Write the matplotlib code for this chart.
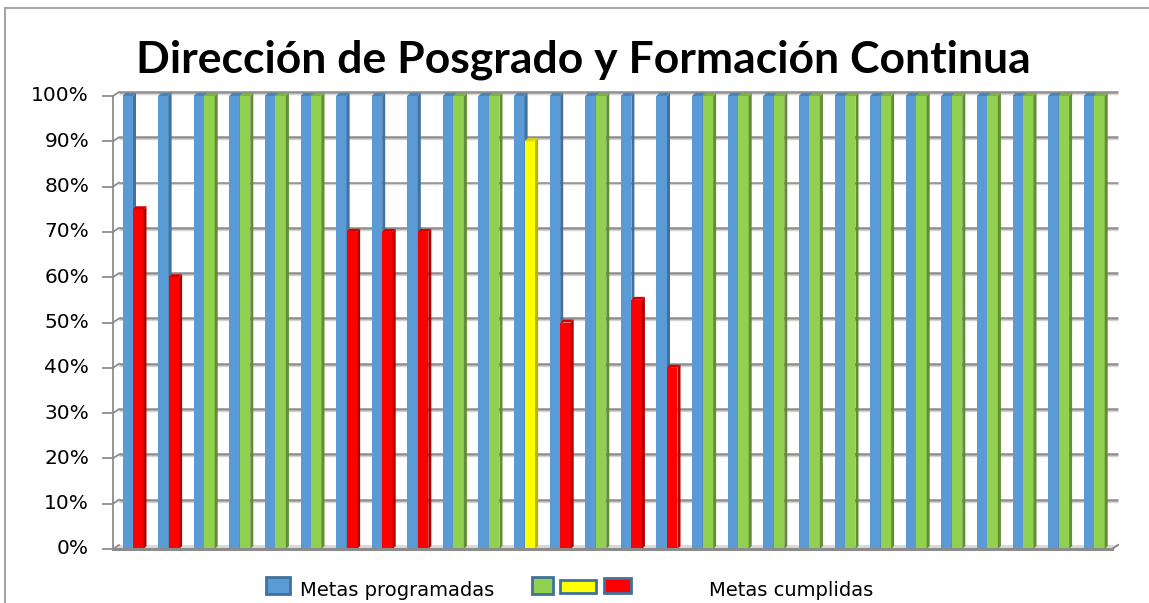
import matplotlib
matplotlib.use("Agg")
import matplotlib.pyplot as plt
from matplotlib.patches import Polygon, Rectangle
from matplotlib.lines import Line2D
import numpy as np

# ---------------- data ----------------
titulo = "Dirección de Posgrado y Formación Continua"
n_metas = 28
metas_programadas = [1.0] * 28
metas_cumplidas = [0.75, 0.60, 1.0, 1.0, 1.0, 1.0, 0.70, 0.70, 0.70, 1.0, 1.0,
                   0.90, 0.50, 1.0, 0.55, 0.40, 1.0, 1.0, 1.0, 1.0, 1.0, 1.0,
                   1.0, 1.0, 1.0, 1.0, 1.0, 1.0]
y_ticks = [0.0, 0.1, 0.2, 0.3, 0.4, 0.5, 0.6, 0.7, 0.8, 0.9, 1.0]
y_tick_labels = ["0%", "10%", "20%", "30%", "40%", "50%", "60%", "70%", "80%", "90%", "100%"]
legend_labels = ["Metas programadas", "Metas cumplidas"]

# ---------------- styles ----------------
BLUE = ("#5B9BD5", "#41719C", "#4A85BA")
GREEN = ("#92D050", "#628C35", "#7BB241")
YELLOW = ("#FFFF00", "#B5B500", "#D9D900")
RED = ("#FF0000", "#B00000", "#D40000")
GRID = "#8C8C8C"


def color_for(v):
    if v >= 1.0:
        return GREEN
    if v >= 0.9:
        return YELLOW
    return RED


W, H = 1149, 603
fig = plt.figure(figsize=(W / 100, H / 100), dpi=100)
fig.patch.set_facecolor("white")

# axes (front plane)
ax_l, ax_r, ax_b, ax_t = 113, 1112, 549, 96
ax = fig.add_axes([ax_l / W, 1 - ax_b / H, (ax_r - ax_l) / W, (ax_b - ax_t) / H])
x = np.arange(n_metas)
spacing_px = 35.6
first_px = 133
xl = -(first_px - ax_l) / spacing_px
xr = xl + (ax_r - ax_l) / spacing_px
ax.set_xlim(xl, xr)
ax.set_ylim(0, 1)
ax.axis("off")

px_x = 1 / spacing_px          # data units per pixel (x)
px_y = 1 / (ax_b - ax_t)       # data units per pixel (y)
dxb, dyb = 6 * px_x, 4 * px_y  # back wall offset
dxs, dys = 3 * px_x, 3 * px_y  # bar depth

# floor
floor = Polygon([(xl, 0), (xr, 0), (xr + dxb, dyb), (xl + dxb, dyb)], closed=True,
                facecolor="#D9D9D9", edgecolor="none", clip_on=False, zorder=1)
ax.add_patch(floor)

# gridlines on back wall + left wall diagonals + ticks
for v in y_ticks:
    if v > 0:
        ax.plot([xl + dxb, xr + dxb], [v + dyb, v + dyb], color=GRID, lw=1.8,
                clip_on=False, zorder=1, solid_capstyle="butt")
        ax.plot([xl + dxb, xr + dxb], [v + dyb - 1.8 * px_y, v + dyb - 1.8 * px_y],
                color="#D3D3D3", lw=1.0, clip_on=False, zorder=1, solid_capstyle="butt")
    ax.plot([xl, xl + dxb], [v, v + dyb], color=GRID, lw=1.3, clip_on=False, zorder=1)
    ax.plot([xl - 10 * px_x, xl], [v, v], color=GRID, lw=1.3, clip_on=False, zorder=1)
# left axis (front vertical)
ax.plot([xl, xl], [0, 1], color=GRID, lw=1.3, clip_on=False, zorder=1)
# floor front and right edges
ax.plot([xl, xr], [0, 0], color="#8C8C8C", lw=2.2, clip_on=False, zorder=5)
ax.plot([xr, xr + dxb], [0, dyb], color="#8C8C8C", lw=1.5, clip_on=False, zorder=5)

# bars
bw = 10.5 * px_x
offs = 5.25 * px_x


def bar3d(xc, v, cols, z):
    front, side, top = cols
    x0 = xc - bw / 2
    x1 = xc + bw / 2
    ax.bar(xc, v, width=bw, color=front, edgecolor="none", zorder=z)
    ax.add_patch(Polygon([(x1, 0), (x1 + dxs, dys), (x1 + dxs, v + dys), (x1, v)],
                         closed=True, facecolor=side, edgecolor="none", zorder=z, clip_on=False))
    ax.add_patch(Polygon([(x0, v), (x1, v), (x1 + dxs, v + dys), (x0 + dxs, v + dys)],
                         closed=True, facecolor=top, edgecolor="none", zorder=z, clip_on=False))


for i in range(n_metas):
    bar3d(x[i] - offs, metas_programadas[i], BLUE, 3)
    bar3d(x[i] + offs, metas_cumplidas[i], color_for(metas_cumplidas[i]), 4)

# y tick labels
for v, lab in zip(y_ticks, y_tick_labels):
    ax.text(xl - 24 * px_x, v, lab, ha="right", va="center", fontsize=14.5,
            family="DejaVu Sans", color="black", clip_on=False)

# title
fig.text(583 / W, 1 - 60 / H, titulo, ha="center", va="center", fontsize=32,
         fontweight="bold", family=["Lato", "DejaVu Sans"], color="black")

# chart border (left and top)
fig.add_artist(Line2D([5 / W, 5 / W], [0, 1 - 8 / H], transform=fig.transFigure,
                      color="#A6A6A6", lw=1.5))
fig.add_artist(Line2D([5 / W, 1], [1 - 8 / H, 1 - 8 / H], transform=fig.transFigure,
                      color="#A6A6A6", lw=1.5))


# legend
def fig_rect(x0, y0, x1, y1, fc):
    fig.add_artist(Rectangle((x0 / W, 1 - y1 / H), (x1 - x0) / W, (y1 - y0) / H,
                             transform=fig.transFigure, facecolor=fc,
                             edgecolor="#41719C", lw=2))


fig_rect(266, 577, 290, 594, BLUE[0])
fig.text(300 / W, 1 - 590 / H, legend_labels[0], ha="left", va="center",
         fontsize=14, family="DejaVu Sans")
fig_rect(532, 577, 553, 594, GREEN[0])
fig_rect(560, 580, 596, 593, YELLOW[0])
fig_rect(604, 578, 631, 593, RED[0])
fig.text(709 / W, 1 - 590 / H, legend_labels[1], ha="left", va="center",
         fontsize=14, family="DejaVu Sans")

fig.savefig("out.png", dpi=100, facecolor="white")
